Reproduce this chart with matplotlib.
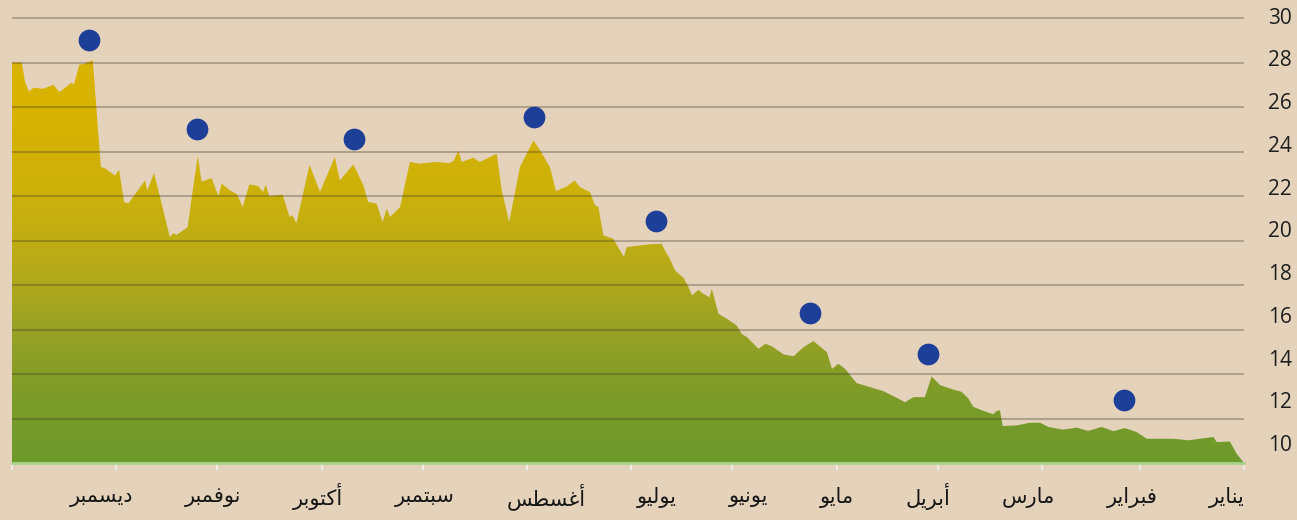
import unicodedata
import numpy as np
import matplotlib
matplotlib.use("Agg")
import matplotlib.pyplot as plt
from matplotlib.colors import LinearSegmentedColormap

# الشهور (يناير على اليمين)
months = ["يناير", "فبراير", "مارس", "أبريل", "مايو", "يونيو",
          "يوليو", "أغسطس", "سبتمبر", "أكتوبر", "نوفمبر", "ديسمبر"]
month_days = [31, 29, 31, 30, 31, 30, 31, 31, 30, 31, 30, 31]

# daily series, day of year -> value
day = [0.0, 2.2, 4.2, 8.1, 9.1, 16.5, 21.0, 28.9, 31.9, 35.4, 38.8, 42.3, 46.3, 49.7,
       53.7, 58.1, 60.6, 63.6, 67.6, 71.7, 72.5, 73.5, 74.5, 77.9, 80.4, 81.9, 83.9,
       86.4, 90.3, 92.8, 94.8, 98.2, 100.7, 103.2, 107.1, 115.1, 118.5, 120.5, 122.4,
       123.9, 127.9, 130.9, 133.8, 136.8, 140.2, 142.2, 144.2, 147.7, 149.2, 150.7,
       153.6, 156.1, 158.1, 158.8, 160.6, 162.1, 164.0, 165.0, 166.5, 169.0, 170.8,
       171.5, 173.0, 176.5, 179.4, 183.4, 184.2, 185.4, 187.4, 190.3, 191.8, 192.8,
       194.3, 197.3, 198.8, 201.2, 204.4, 206.2, 209.1, 211.1, 212.6, 215.1, 218.3,
       220.5, 222.0, 227.0, 229.0, 232.4, 233.4, 234.7, 235.9, 240.3, 244.8, 247.8,
       250.7, 253.7, 254.7, 255.9, 257.7, 260.2, 261.6, 264.6, 268.6, 270.1, 274.5,
       277.6, 281.5, 282.8, 283.5, 285.6, 289.6, 290.6, 291.4, 292.9, 295.5, 297.5,
       299.1, 301.2, 303.7, 304.7, 306.7, 309.7, 310.8, 312.6, 313.8, 317.1, 318.1,
       319.1, 323.8, 325.8, 326.5, 331.4, 332.7, 334.2, 335.4, 338.4, 339.6, 342.0,
       344.8, 346.0, 347.6, 348.3, 351.9, 353.7, 356.7, 359.7, 360.9, 362.1, 363.1,
       366.0]
value = [10.0, 10.42, 10.97, 10.94, 11.17, 11.02, 11.09, 11.09, 11.39, 11.57, 11.43,
         11.62, 11.44, 11.59, 11.50, 11.62, 11.81, 11.81, 11.69, 11.66, 12.37, 12.34,
         12.19, 12.37, 12.52, 12.90, 13.20, 13.30, 13.50, 13.89, 12.96, 12.96, 12.73,
         12.93, 13.23, 13.59, 14.23, 14.46, 14.23, 14.98, 15.48, 15.20, 14.80, 14.88,
         15.24, 15.36, 15.13, 15.66, 15.80, 16.18, 16.48, 16.70, 17.83, 17.45, 17.60,
         17.78, 17.53, 17.90, 18.32, 18.65, 19.25, 19.40, 19.85, 19.83, 19.78, 19.70,
         19.26, 19.56, 20.08, 20.23, 21.50, 21.58, 22.18, 22.40, 22.70, 22.43, 22.22,
         23.30, 24.05, 24.50, 24.05, 23.30, 20.83, 22.25, 23.90, 23.53, 23.72, 23.53,
         24.05, 23.60, 23.48, 23.53, 23.45, 23.53, 21.50, 21.06, 21.43, 20.83, 21.66,
         21.73, 22.48, 23.42, 22.70, 23.75, 22.18, 23.40, 20.78, 21.15, 21.05, 22.06,
         21.99, 22.52, 22.18, 22.45, 22.52, 21.50, 22.07, 22.25, 22.55, 22.00, 22.80,
         22.65, 23.80, 21.95, 20.60, 20.25, 20.33, 20.15, 23.03, 22.25, 22.70, 21.67,
         21.72, 23.18, 22.92, 23.25, 23.30, 28.10, 27.93, 27.90, 27.00, 27.10, 26.67,
         27.00, 26.82, 26.86, 26.70, 27.10, 28.00, 28.00]

# النقاط الزرقاء
dot_day = [35.6, 93.8, 128.9, 174.7, 210.9, 264.4, 311.1, 343.1]
dot_value = [12.82, 14.91, 16.73, 20.87, 25.55, 24.55, 25.02, 29.0]

y_ticks = list(range(10, 31, 2))

W, H = 1297, 520
BOTTOM = 10
TOP = 10 + 463 / 22.25


# matplotlib has no Arabic shaping, so pick the joined glyph forms by hand
FORMS = {}
for cp in range(0xFE70, 0xFEFD):
    d = unicodedata.decomposition(chr(cp)).split()
    if len(d) == 2 and d[0] in ("<isolated>", "<final>", "<initial>", "<medial>"):
        FORMS.setdefault(chr(int(d[1], 16)), {})[d[0][1:-1]] = chr(cp)


def shape(text):
    out = []
    for i, ch in enumerate(text):
        f = FORMS.get(ch)
        if f is None:
            out.append(ch)
            continue
        prev = text[i - 1] if i > 0 else ""
        nxt = text[i + 1] if i + 1 < len(text) else ""
        a = prev in FORMS and "initial" in FORMS[prev]
        b = "initial" in f and nxt in FORMS
        key = {(1, 1): "medial", (1, 0): "final", (0, 1): "initial", (0, 0): "isolated"}[(a, b)]
        out.append(f.get(key, f["isolated"]))
    return "".join(reversed(out))


fig = plt.figure(figsize=(W / 100, H / 100), dpi=100)
fig.patch.set_facecolor("#e4d2bb")
ax = fig.add_axes([12 / W, 57 / H, 1232 / W, 463 / H])
ax.set_facecolor("none")

# area with vertical gradient
poly = ax.fill_between(day, value, BOTTOM, color="none", lw=0)
cmap = LinearSegmentedColormap.from_list("area", [
    (0.0, "#6c9a2c"), (0.15, "#7d9c28"), (0.29, "#9aa224"), (0.43, "#b8ab18"),
    (0.58, "#cdb10a"), (0.77, "#d8b302"), (1.0, "#dbb400")])
grad = ax.imshow(np.linspace(0, 1, 256).reshape(-1, 1), extent=[0, 366, BOTTOM, TOP],
                 origin="lower", aspect="auto", cmap=cmap, zorder=1)
grad.set_clip_path(poly.get_paths()[0], transform=ax.transData)

for v in y_ticks[1:]:
    ax.axhline(v, color="#3a3024", alpha=0.3, lw=1.5, zorder=3)

ax.scatter(dot_day, dot_value, s=245, color="#1d3f98", lw=0, zorder=4)

ax.set_xlim(366, 0)
ax.set_ylim(BOTTOM, TOP)
edges = np.concatenate([[0], np.cumsum(month_days)])
ax.set_xticks(edges)
ax.set_xticklabels([])
ax.tick_params(axis="x", direction="out", length=5, width=1.5, color="#f1ece3")
ax.set_yticks([])
for s in ["top", "left", "right"]:
    ax.spines[s].set_visible(False)
ax.spines["bottom"].set_color("#a9d38c")
ax.spines["bottom"].set_linewidth(2)
ax.spines["bottom"].set_zorder(5)

# y labels sit on their own slightly tighter scale
ax2 = ax.twinx()
ax2.set_ylim(9.07, 30.73)
ax2.set_yticks(y_ticks)
ax2.set_yticklabels([str(v) for v in y_ticks], fontsize=15, family="Open Sans", color="#1e1e1e")
ax2.tick_params(axis="y", length=0, pad=17)
for s in ax2.spines.values():
    s.set_visible(False)

# month names set as one justified line, right to left
texts = [fig.text(0, 1 - 497 / H, shape(m), fontsize=15, family="DejaVu Sans",
                  color="#161616", ha="left", va="center") for m in months[::-1]]
fig.canvas.draw()
widths = [t.get_window_extent().width for t in texts]
gap = ((1245 - 70) - sum(widths)) / (len(texts) - 1)
x = 70
for t, w in zip(texts, widths):
    t.set_x(x / W)
    x += w + gap

fig.savefig("out.png", dpi=100)
